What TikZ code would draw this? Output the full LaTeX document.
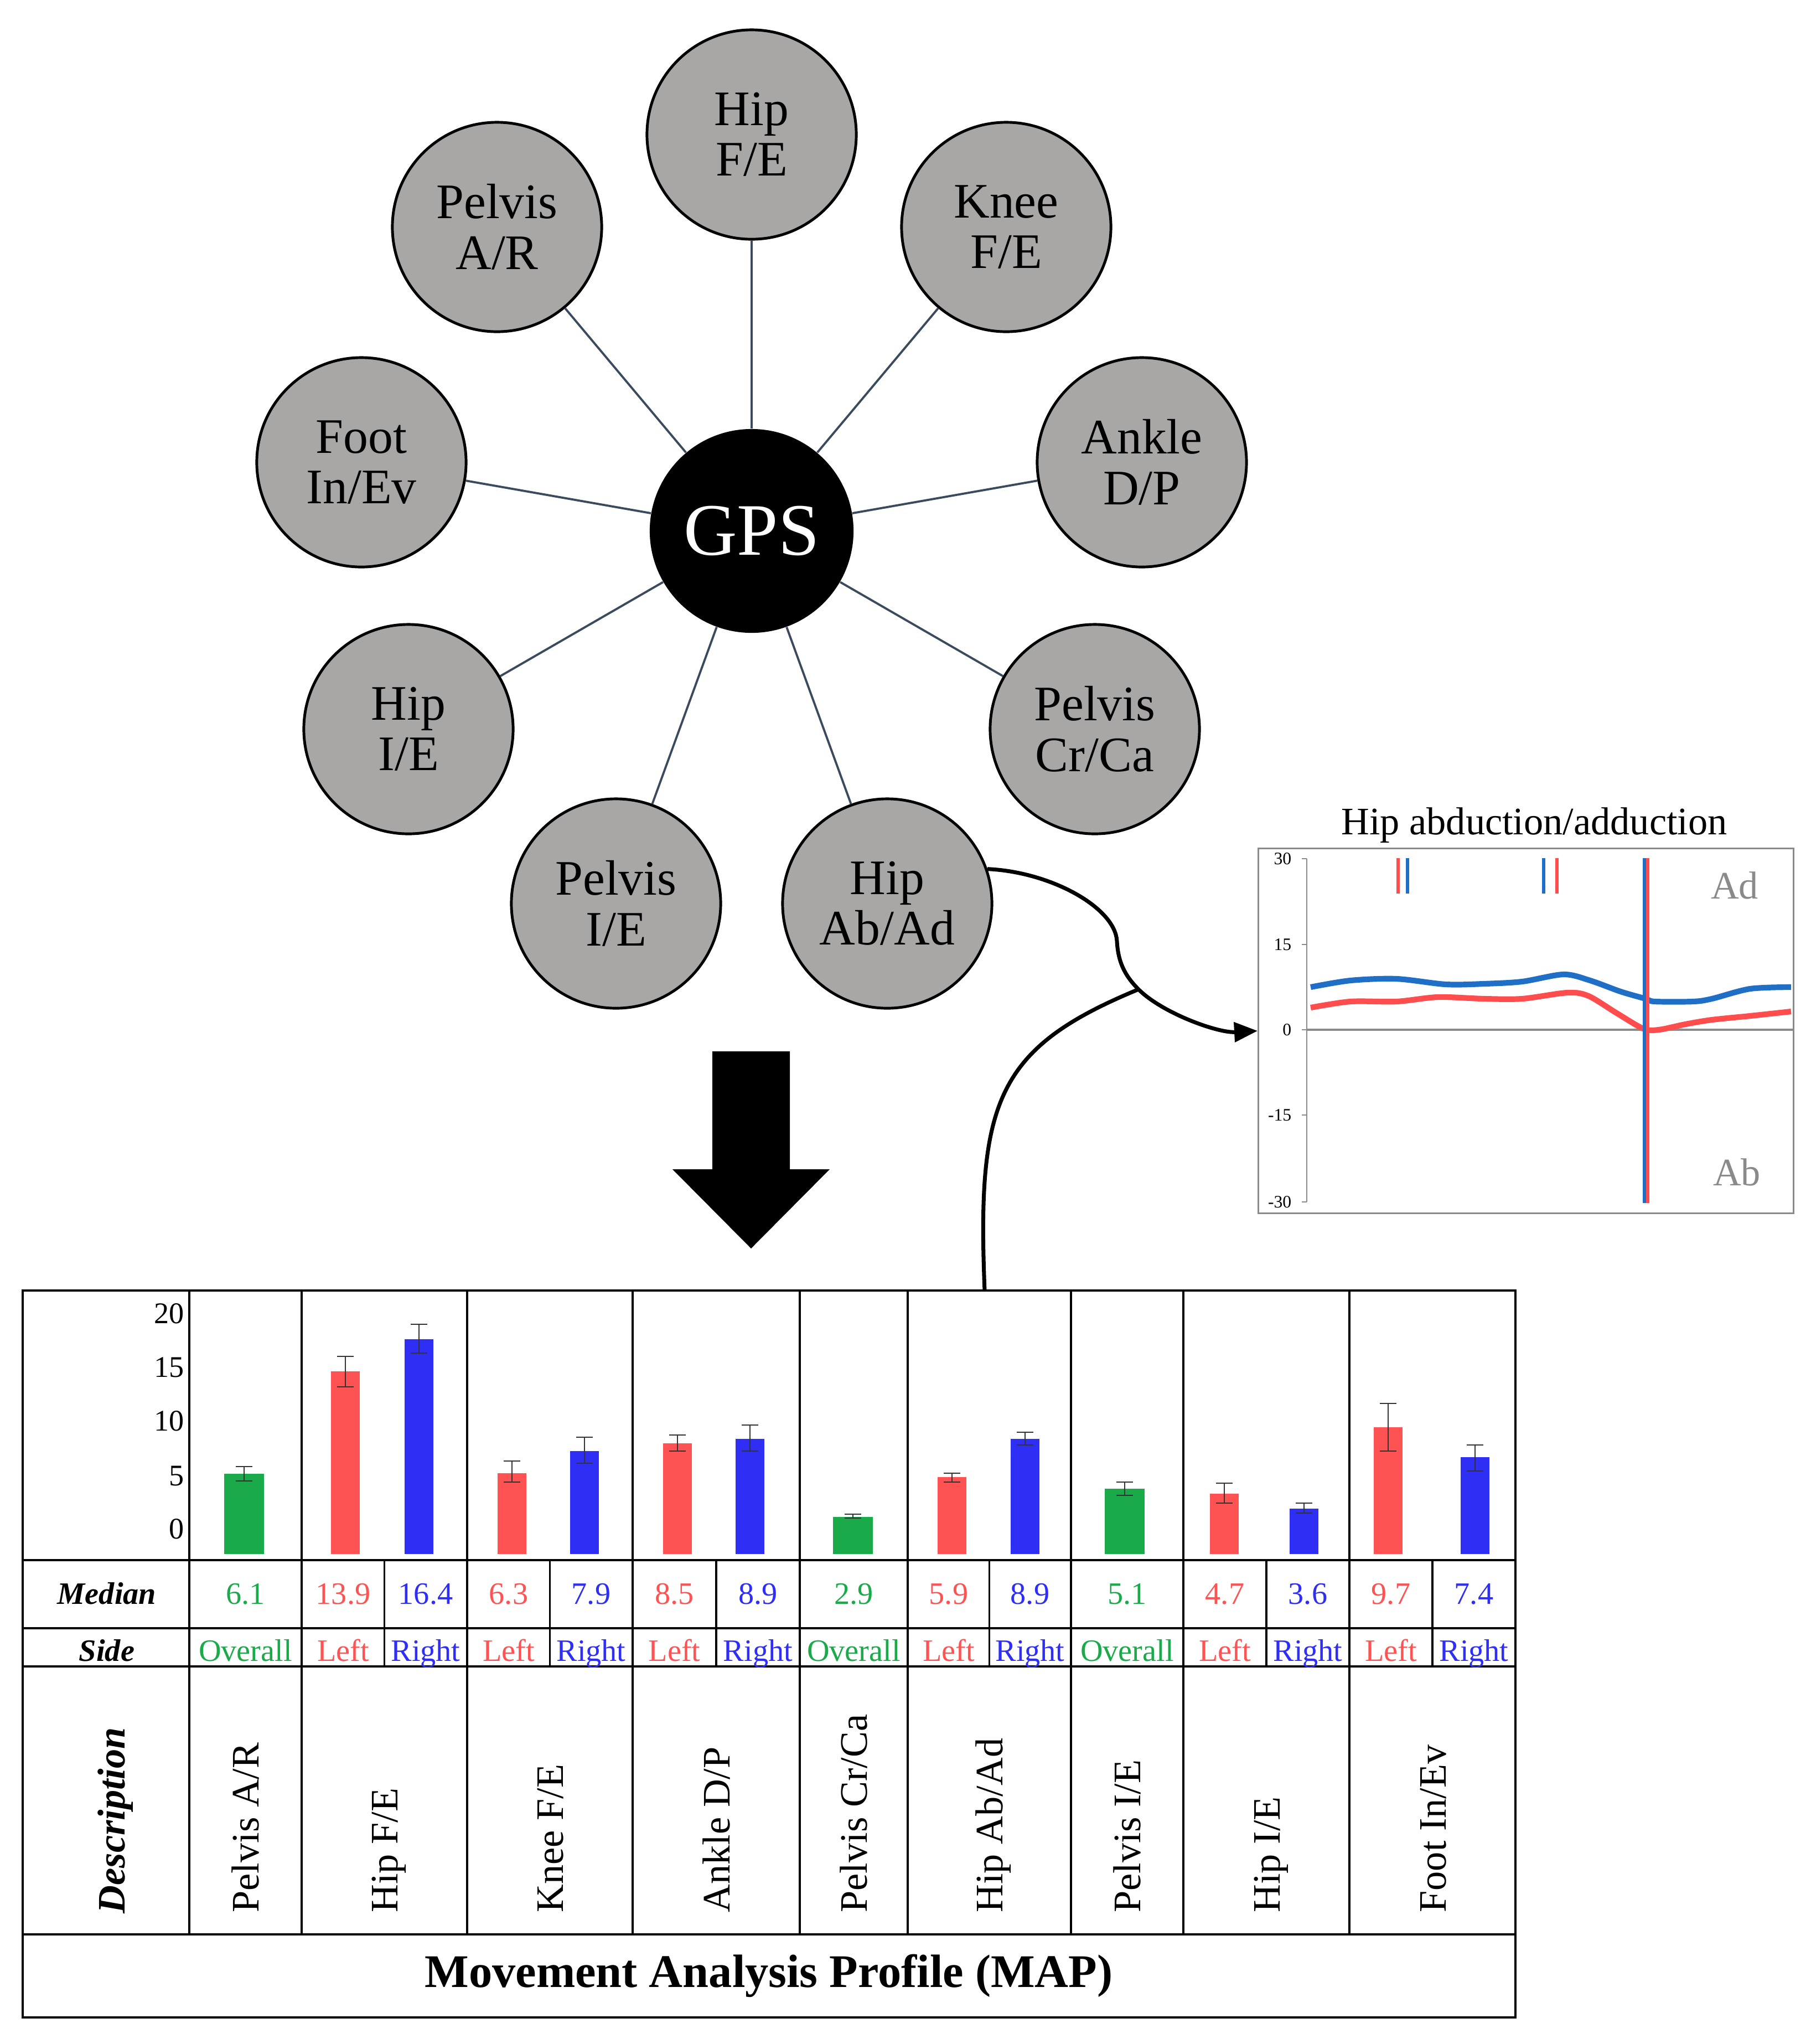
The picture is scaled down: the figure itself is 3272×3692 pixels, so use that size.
\documentclass[tikz,border=0pt]{standalone}
\usepackage{fontspec}
\setmainfont{Liberation Serif}
\usepackage{xcolor}
\usetikzlibrary{arrows.meta}
\definecolor{jointgray}{HTML}{A9A6A6}
\definecolor{spokeblue}{HTML}{3C4A5E}
\definecolor{mapred}{HTML}{FF5252}
\definecolor{mapblue}{HTML}{2E2EF5}
\definecolor{mapgreen}{HTML}{1AAA4A}
\definecolor{curveblue}{HTML}{1F6FC6}
\definecolor{curvered}{HTML}{FF4C4C}
\definecolor{axisgray}{HTML}{8A8A8A}
\tikzset{
	joint/.style={circle, draw=black, line width=1.4pt, fill=jointgray, minimum size=3.78cm, inner sep=0pt, align=center, font=\fontsize{25.5}{26}\selectfont},
	hub/.style={circle, fill=black, minimum size=3.68cm, inner sep=0pt, text=white, font=\fontsize{38}{40}\selectfont},
	spoke/.style={draw=spokeblue, line width=1.1pt},
	link/.style={draw=black, line width=2pt},
	plotbox/.style={draw=axisgray, line width=0.9pt, minimum width=9.66cm, minimum height=6.59cm, inner sep=0pt},
	axisline/.style={draw=axisgray, line width=0.6pt},
	zeroline/.style={draw=axisgray, line width=1.2pt},
	ticklabel/.style={anchor=east, inner sep=0pt, font=\fontsize{9}{10}\selectfont},
	sidelabel/.style={text=axisgray, inner sep=0pt, font=\fontsize{20}{22}\selectfont},
	curveb/.style={draw=curveblue, line width=2.9pt},
	curver/.style={draw=curvered, line width=2.9pt},
	grid/.style={draw=black, line width=1.1pt},
	barlabel/.style={anchor=base east, inner sep=0pt, font=\fontsize{15.4}{17}\selectfont},
	errbar/.style={draw=black!80, line width=0.8pt},
	cell/.style={anchor=base, inner sep=0pt, font=\fontsize{16}{18}\selectfont},
	head/.style={anchor=base, inner sep=0pt, font=\fontsize{16}{18}\selectfont\bfseries\itshape},
	desc/.style={rotate=90, anchor=base west, inner sep=0pt, font=\fontsize{20}{22}\selectfont}
}
\begin{document}
\begin{tikzpicture}[x=0.01cm, y=-0.01cm]
	\useasboundingbox (0,0) rectangle (3272,3692);

	\node[hub] (gps) at (1358,959) {GPS};
	\node[joint] (hipfe) at (1358,243) {Hip\\F/E};
	\node[joint] (kneefe) at (1818,410) {Knee\\F/E};
	\node[joint] (ankledp) at (2063,835) {Ankle\\D/P};
	\node[joint] (pelviscrca) at (1978,1317) {Pelvis\\Cr/Ca};
	\node[joint] (hipabad) at (1603,1632) {Hip\\Ab/Ad};
	\node[joint] (pelvisie) at (1113,1632) {Pelvis\\I/E};
	\node[joint] (hipie) at (738,1317) {Hip\\I/E};
	\node[joint] (footinev) at (653,835) {Foot\\In/Ev};
	\node[joint] (pelvisar) at (898,410) {Pelvis\\A/R};
	\foreach \j in {hipfe,kneefe,ankledp,pelviscrca,hipabad,pelvisie,hipie,footinev,pelvisar}
		\draw[spoke] (gps) -- (\j);

	\fill (1287,1899) -- (1427,1899) -- (1427,2112) -- (1499,2112) -- (1357,2255) -- (1215,2112) -- (1287,2112) -- cycle;

	\node[plotbox] (abadplot) at (2757,1862) {};
	\node[font=\fontsize{20}{22}\selectfont, inner sep=0pt] (ptitle) at (2772,1491) {Hip abduction/adduction};
	\draw[axisline] (2361,1551) -- (2361,2171);
	\foreach \v/\yy [count=\i] in {30/1551,15/1706,0/1860,-15/2014,-30/2171} {
		\draw[axisline] (2352,\yy) -- (2361,\yy);
		\node[ticklabel] (tick\i) at (2334,\yy) {\v};
	}
	\draw[zeroline] (2361,1860) -- (3240,1860);
	\draw[curveb] plot[smooth] coordinates {(2368,1783) (2440,1771) (2523,1768) (2612,1778) (2681,1777) (2750,1773) (2825,1760) (2873,1771) (2928,1791) (2973,1804) (2990,1809) (3059,1809) (3093,1804) (3162,1786) (3236,1783)};
	\draw[curver] plot[smooth] coordinates {(2368,1820) (2440,1809) (2523,1809) (2598,1801) (2681,1804) (2750,1804) (2832,1793) (2870,1799) (2921,1830) (2969,1858) (2997,1860) (3045,1850) (3093,1842) (3162,1835) (3236,1827)};
	\draw[curveblue, line width=1.8pt] (2971,1550) -- (2971,2173);
	\draw[curvered, line width=1.8pt] (2977,1550) -- (2977,2173);
	\foreach \xx/\col in {2526/curvered,2543/curveblue,2789/curveblue,2813/curvered}
		\draw[\col, line width=1.8pt] (\xx,1550) -- (\xx,1614);
	\node[sidelabel] (adlabel) at (3134,1599) {Ad};
	\node[sidelabel] (ablabel) at (3138,2117) {Ab};

	\coordinate (merge) at (2057,1787);
	\coordinate (mapjoin) at (1779,2331);
	\draw[link, -{Triangle[length=12pt, width=10pt]}] (hipabad.19) .. controls (1900,1575) and (2015,1640) .. (2018,1700)
		.. controls (2020,1735) and (2030,1760) .. (merge)
		.. controls (2100,1830) and (2200,1866) .. (abadplot.west);
	\draw[link] (mapjoin) .. controls (1765,1990) and (1800,1893) .. (merge);

	\draw[grid] (41,2331) rectangle (2738,3644);
	\foreach \yy in {2818,2941,3010,3494}
		\draw[grid] (41,\yy) -- (2738,\yy);
	\foreach \xx in {342,545,844,1143,1445,1640,1935,2138,2438}
		\draw[grid] (\xx,2331) -- (\xx,3494);
	\foreach \xx in {694.5,993.5,1294,1787.5,2288,2588}
		\draw[grid] (\xx,2818) -- (\xx,3010);

	\foreach \v/\yy [count=\i] in {20/2390,15/2487,10/2584,5/2683,0/2779}
		\node[barlabel] (bl\i) at (333,\yy) {\v};
	\foreach \cx/\hw/\top/\ea/\eb/\col in {441/36/2662/2649/2675/mapgreen, 624/26/2477/2450/2505/mapred, 757/26/2419/2392/2444/mapblue,
		925/26/2661/2639/2677/mapred, 1056/26/2621/2596/2643/mapblue, 1224/26/2607/2592/2621/mapred, 1355/26/2599/2574/2621/mapblue,
		1541/36/2740/2735/2742/mapgreen, 1720/26/2668/2661/2677/mapred, 1852/26/2599/2587/2610/mapblue, 2032/36/2689/2677/2701/mapgreen,
		2212/26/2698/2679/2715/mapred, 2356/26/2725/2715/2733/mapblue, 2508/26/2578/2535/2621/mapred, 2665/26/2632/2610/2657/mapblue} {
		\fill[\col] (\cx-\hw,2807) rectangle (\cx+\hw,\top);
		\draw[errbar] (\cx,\ea) -- (\cx,\eb) (\cx-15,\ea) -- (\cx+15,\ea) (\cx-15,\eb) -- (\cx+15,\eb);
	}

	\node[head] (medianhead) at (193,2897) {Median};
	\node[head] (sidehead) at (193,3000) {Side};
	\foreach \cx/\v/\s/\col [count=\i] in {443.5/6.1/Overall/mapgreen, 620/13.9/Left/mapred, 769/16.4/Right/mapblue,
		919/6.3/Left/mapred, 1068/7.9/Right/mapblue, 1218.5/8.5/Left/mapred, 1369.5/8.9/Right/mapblue,
		1542.5/2.9/Overall/mapgreen, 1714/5.9/Left/mapred, 1861/8.9/Right/mapblue, 2036.5/5.1/Overall/mapgreen,
		2213/4.7/Left/mapred, 2363/3.6/Right/mapblue, 2513/9.7/Left/mapred, 2663/7.4/Right/mapblue} {
		\node[cell, text=\col] (med\i) at (\cx,2897) {\v};
		\node[cell, text=\col] (side\i) at (\cx,3000) {\s};
	}

	\node[desc, font=\fontsize{20}{22}\selectfont\bfseries\itshape] (deschead) at (225,3457) {Description};
	\foreach \cx/\t [count=\i] in {443.5/{Pelvis A/R}, 694.5/{Hip F/E}, 993.5/{Knee F/E}, 1294/{Ankle D/P}, 1542.5/{Pelvis Cr/Ca},
		1787.5/{Hip Ab/Ad}, 2036.5/{Pelvis I/E}, 2288/{Hip I/E}, 2588/{Foot In/Ev}}
		\node[desc] (desc\i) at (\cx+24,3455) {\t};

	\node[font=\fontsize{24}{26}\selectfont\bfseries, inner sep=0pt] (maptitle) at (1389,3569) {Movement Analysis Profile (MAP)};
\end{tikzpicture}
\end{document}
